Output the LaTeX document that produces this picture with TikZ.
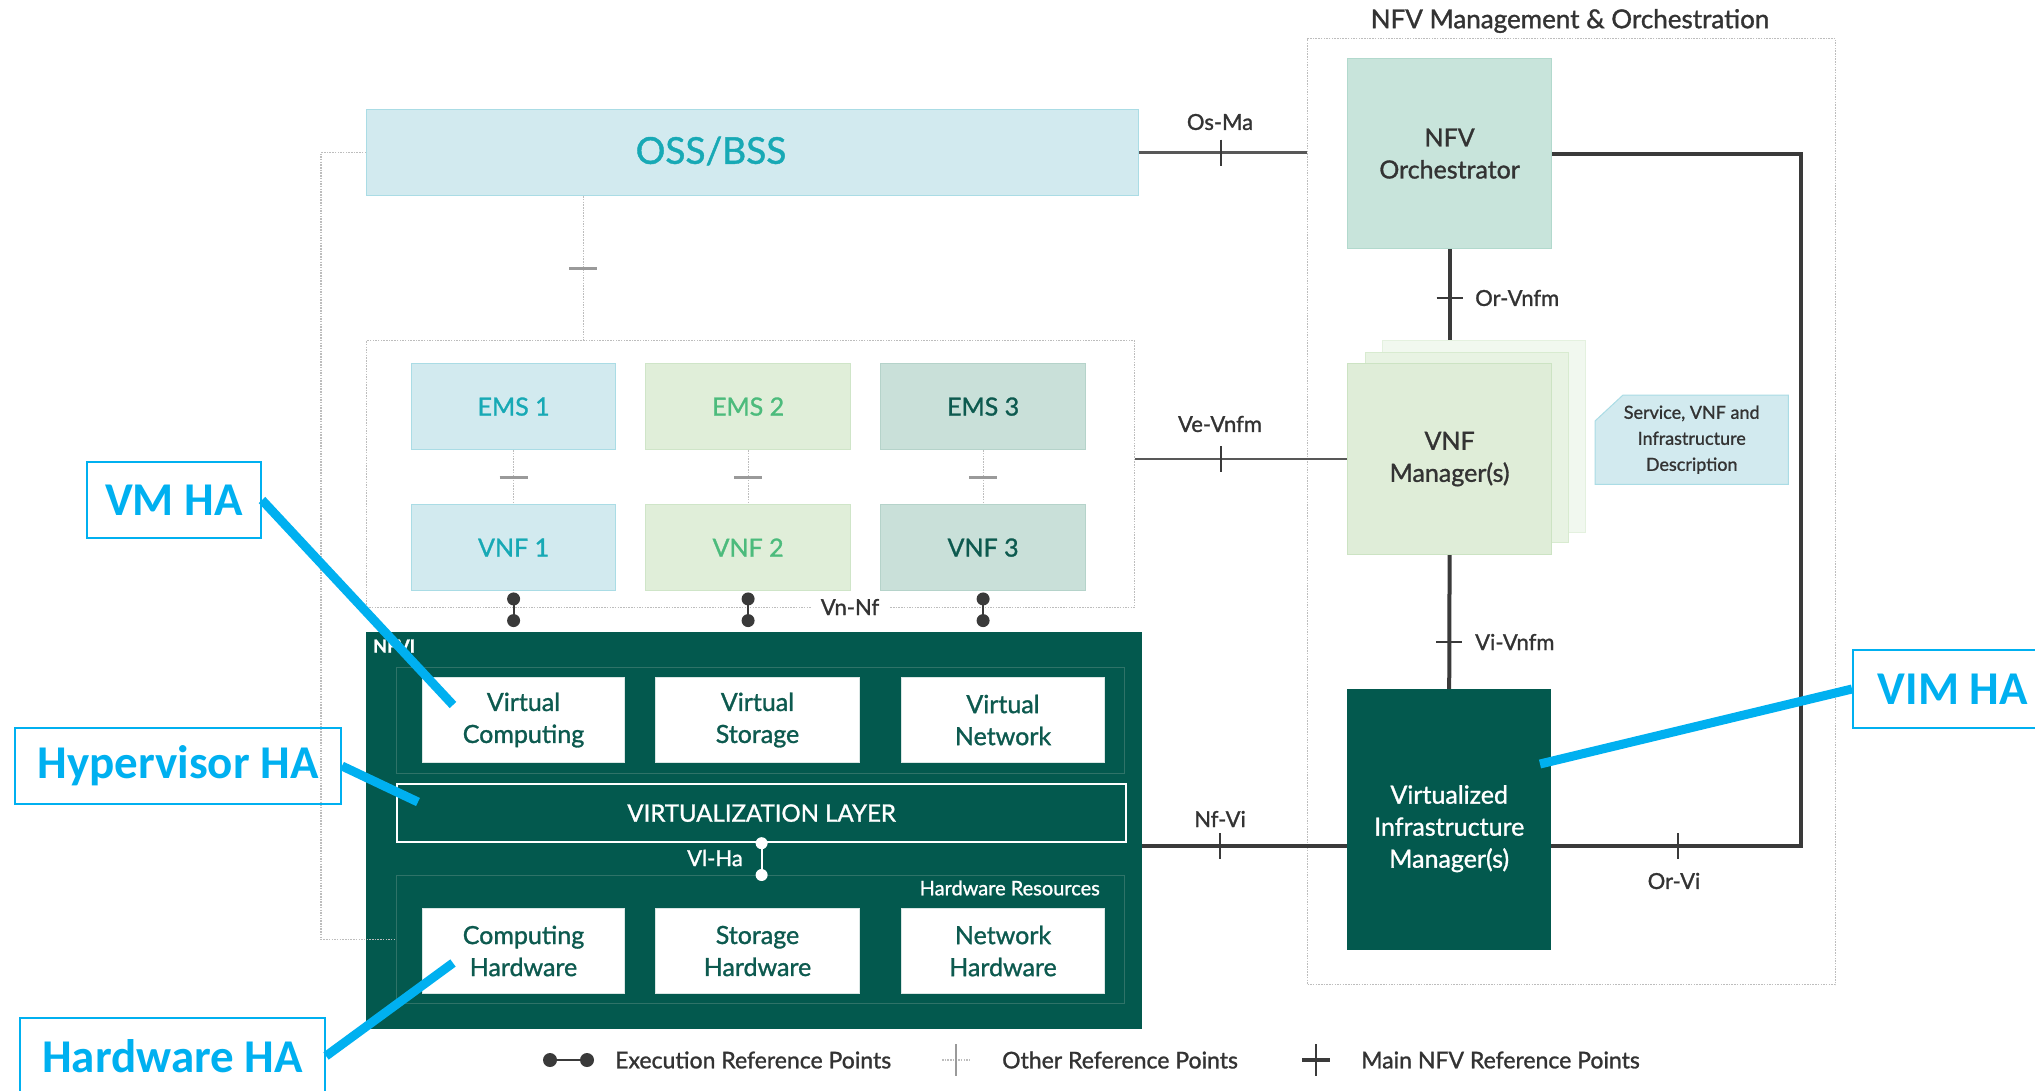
\documentclass[tikz,border=0pt]{standalone}
\usepackage{fontspec}
\setmainfont{Lato}[FakeBold=1.2]
\newfontfamily\hafont{Carlito}
\usetikzlibrary{calc,backgrounds}

\definecolor{nfvdark}{HTML}{03594E}
\definecolor{innerln}{HTML}{2F7368}
\definecolor{tealtxt}{HTML}{17A9B5}
\definecolor{bluefill}{HTML}{D2EAEF}
\definecolor{blueedge}{HTML}{AADCE5}
\definecolor{greenfill}{HTML}{E0EED9}
\definecolor{greenedge}{HTML}{CFE5C8}
\definecolor{greentxt}{HTML}{4CBB7C}
\definecolor{sagefill}{HTML}{C9E0D9}
\definecolor{sageedge}{HTML}{B5D3CA}
\definecolor{darktxt}{HTML}{0D5A4F}
\definecolor{nfvofill}{HTML}{C8E4DB}
\definecolor{nfvoedge}{HTML}{B2D9CD}
\definecolor{vnfmA}{HTML}{DFEDD8}
\definecolor{vnfmAedge}{HTML}{CCE3C3}
\definecolor{vnfmB}{HTML}{E8F3E3}
\definecolor{vnfmBedge}{HTML}{D8EBD0}
\definecolor{vnfmC}{HTML}{F1F8EF}
\definecolor{vnfmCedge}{HTML}{E4F1DF}
\definecolor{refline}{HTML}{3A3A3A}
\definecolor{lbltxt}{HTML}{333333}
\definecolor{dotgray}{HTML}{BDBDBD}
\definecolor{tickgray}{HTML}{9A9A9A}
\definecolor{habl}{HTML}{00B0F0}

\tikzset{
  vtick/.pic={\draw[solid, line width=2pt, refline] (0,-13) -- (0,13);},
  htick/.pic={\draw[solid, line width=2pt, refline] (-13,0) -- (13,0);},
  gtick/.pic={\draw[solid, line width=3pt, tickgray] (-14,0) -- (14,0);},
}

\begin{document}
\begin{tikzpicture}[x=1pt, y=-1pt,
  blk/.style={rectangle, anchor=north west, inner sep=0pt, align=center},
  txt25/.style={font=\fontsize{25}{32}\selectfont},
  tealbox/.style={blk, txt25, fill=bluefill, draw=blueedge, line width=1.2pt, text=tealtxt, minimum width=204pt, minimum height=86pt},
  greenbox/.style={blk, txt25, fill=greenfill, draw=greenedge, line width=1.2pt, text=greentxt, minimum width=205pt, minimum height=86pt},
  sagebox/.style={blk, txt25, fill=sagefill, draw=sageedge, line width=1.2pt, text=darktxt, minimum width=205pt, minimum height=86pt},
  whitebox/.style={blk, txt25, fill=white, draw=white!85!nfvdark, line width=1pt, text=darktxt, minimum height=85pt},
  frame/.style={blk, draw=dotgray, dash pattern=on 1.5pt off 1.2pt, line width=1pt},
  dotln/.style={draw=dotgray, dash pattern=on 1.5pt off 1.2pt, line width=1.1pt},
  mainln/.style={draw=refline, line width=4pt},
  medln/.style={draw=refline!85, line width=2.6pt},
  reflbl/.style={font=\fontsize{22}{26}\selectfont, text=lbltxt, inner sep=2pt},
  legtxt/.style={font=\fontsize{23}{26}\selectfont, text=lbltxt, anchor=west, inner sep=0pt},
  habox/.style={rectangle, draw=habl, line width=2pt, text=habl, font=\hafont\bfseries\fontsize{47}{52}\selectfont, inner sep=0pt, anchor=north west},
  haln/.style={draw=habl, line width=9pt},
]
\useasboundingbox (0,0) rectangle (2035,1090);
\begin{scope}[on background layer]
  \fill[white] (0,0) rectangle (2035,1090);
\end{scope}
\clip (0,0) rectangle (2035,1090);

% ---------- OSS/BSS ----------
\node[blk, fill=bluefill, draw=blueedge, line width=1.2pt, minimum width=772pt, minimum height=86pt] (oss) at (366,109) {};
\node[font=\fontsize{37}{40}\selectfont, text=tealtxt] (osslbl) at (711,151) {OSS/BSS};

% ---------- NFV MANO ----------
\node[frame, minimum width=528pt, minimum height=946pt] (mano) at (1307,38) {};
\node[font=\fontsize{26}{30}\selectfont, text=lbltxt] (manotitle) at (1570,21) {NFV Management \& Orchestration};

\node[blk, txt25, fill=nfvofill, draw=nfvoedge, line width=1.2pt, minimum width=204pt, minimum height=190pt, text=lbltxt] (nfvo) at (1347,58) {NFV\\Orchestrator};

\node[blk, fill=vnfmC, draw=vnfmCedge, line width=1.2pt, minimum width=203pt, minimum height=192pt] (vnfmb2) at (1382,340) {};
\node[blk, fill=vnfmB, draw=vnfmBedge, line width=1.2pt, minimum width=203pt, minimum height=190pt] (vnfmb1) at (1365,352) {};
\node[blk, txt25, fill=vnfmA, draw=vnfmAedge, line width=1.2pt, minimum width=204pt, minimum height=191pt, text=lbltxt] (vnfm) at (1347,363) {VNF\\Manager(s)};

\node[blk, minimum width=193pt, minimum height=89pt, font=\fontsize{18}{26}\selectfont, text=lbltxt] (desc) at (1595,395) {Service, VNF and\\Infrastructure\\Description};
\begin{scope}[on background layer]
  \filldraw[fill=bluefill, draw=blueedge, line width=1pt]
    ($(desc.north west)+(0,26)$) -- ($(desc.north west)+(28,0)$) -- (desc.north east)
    -- (desc.south east) -- (desc.south west) -- cycle;
\end{scope}

\node[blk, fill=nfvdark, minimum width=204pt, minimum height=261pt] (vim) at (1347,689) {};
\node[txt25, text=white, align=center] (vimlbl) at ($(vim.center)+(0,9)$) {Virtualized\\Infrastructure\\Manager(s)};

% ---------- EMS / VNF ----------
\node[frame, minimum width=768pt, minimum height=267pt] (emsc) at (366,340) {};
\node[tealbox] (ems1) at (411,363) {EMS 1};
\node[greenbox] (ems2) at (645,363) {EMS 2};
\node[sagebox] (ems3) at (880,363) {EMS 3};
\node[tealbox] (vnf1) at (411,504) {VNF 1};
\node[greenbox] (vnf2) at (645,504) {VNF 2};
\node[sagebox] (vnf3) at (880,504) {VNF 3};

% ---------- NFVI ----------
\node[blk, fill=nfvdark, minimum width=776pt, minimum height=397pt] (nfvi) at (366,632) {};
\node[anchor=west, text=white, font=\fontsize{18}{20}\selectfont\bfseries, inner sep=0pt] (nfvilbl) at (373,646) {NFVI};
\node[blk, draw=innerln, line width=1pt, minimum width=728pt, minimum height=106pt] (virtrow) at (396,667) {};
\node[whitebox, minimum width=202pt] (vcomp) at (422,677) {Virtual\\Computing};
\node[whitebox, minimum width=204pt] (vstor) at (655,677) {Virtual\\Storage};
\node[whitebox, minimum width=203pt] (vnet) at (901,677) {Virtual\\Network};
\node[blk, draw=white, line width=2.2pt, minimum width=729pt, minimum height=58pt, text=white, font=\fontsize{24}{28}\selectfont] (vlayer) at (396,783) {VIRTUALIZATION LAYER};
\node[blk, draw=innerln, line width=1pt, minimum width=728pt, minimum height=128pt] (hwres) at (396,875) {};
\node[anchor=east, text=white, font=\fontsize{20}{24}\selectfont, inner sep=0pt] (hwreslbl) at (1100,888) {Hardware Resources};
\node[whitebox, minimum width=202pt] (hcomp) at (422,908) {Computing\\Hardware};
\node[whitebox, minimum width=204pt] (hstor) at (655,908) {Storage\\Hardware};
\node[whitebox, minimum width=203pt] (hnet) at (901,908) {Network\\Hardware};

% ---------- other reference points (dotted) ----------
\coordinate (ossdrop) at ($(oss.south west)!0.281!(oss.south east)$);
\draw[dotln] (ossdrop) -- pic[pos=0.5]{gtick} (ossdrop |- emsc.north);
\foreach \i in {1,2,3} {
  \draw[dotln] (ems\i.south) -- pic[pos=0.5]{gtick} (vnf\i.north);
}
\draw[dotln] (oss.west) -- ++(-45,0) |- (hwres.west);

% ---------- execution reference points ----------
\foreach \i in {1,2,3} {
  \path (vnf\i.south) -- coordinate[pos=0.19] (ea\i) coordinate[pos=0.72] (eb\i) (vnf\i.south |- nfvi.north);
  \draw[refline, line width=2pt] (ea\i) -- (eb\i);
  \fill[refline] (ea\i) circle (6.5pt) (eb\i) circle (6.5pt);
}
\node[reflbl, fill=white, inner xsep=10pt] (vnnf) at (850,607) {Vn-Nf};

\draw[white, line width=2pt] (vlayer.south) -- (vlayer.south |- hwres.north);
\fill[white] (vlayer.south) circle (6pt) (vlayer.south |- hwres.north) circle (6pt);
\node[reflbl, text=white] (vlha) at (715,858) {Vl-Ha};

% ---------- main NFV reference points ----------
\coordinate (nfvirow) at (0,846);
\coordinate (loopx) at (1801,0);

\draw[medln] (oss.east) -- pic[pos=0.485]{vtick} (oss.east -| mano.west);
\node[reflbl] (osma) at (1220,122) {Os-Ma};

\draw[medln] (vnfm.west -| emsc.east) -- pic[pos=0.404]{vtick} (vnfm.west);
\node[reflbl] (vevnfm) at (1220,424) {Ve-Vnfm};

\draw[mainln] (nfvi.east |- nfvirow) -- pic[pos=0.38]{vtick} (vim.west |- nfvirow);
\node[reflbl] (nfvilink) at (1220,819) {Nf-Vi};

\draw[mainln] (vim.east |- nfvirow) -- pic[pos=0.508]{vtick} (loopx |- nfvirow) |- (nfvo.east);
\node[reflbl] (orvi) at (1674,881) {Or-Vi};

\draw[mainln] (nfvo.south) -- pic[pos=0.54]{htick} (nfvo.south |- vnfmb2.north);
\node[reflbl, anchor=west] (orvnfm) at (1473,298) {Or-Vnfm};

\draw[mainln] (vnfm.south) -- pic[pos=0.65]{htick} (vim.north);
\node[reflbl, anchor=west] (vivnfm) at (1473,642) {Vi-Vnfm};

% ---------- legend ----------
\node[legtxt] (leg1) at (615,1060) {Execution Reference Points};
\node[legtxt] (leg2) at (1002,1060) {Other Reference Points};
\node[legtxt] (leg3) at (1361,1060) {Main NFV Reference Points};
\draw[refline, line width=2.5pt] ($(leg1.west)+(-65,0)$) -- ($(leg1.west)+(-28,0)$);
\fill[refline] ($(leg1.west)+(-65,0)$) circle (7pt) ($(leg1.west)+(-28,0)$) circle (7pt);
\draw[dotln] ($(leg2.west)+(-60,0)$) -- ($(leg2.west)+(-32,0)$);
\draw[tickgray, line width=1.5pt] ($(leg2.west)+(-46,-16)$) -- ($(leg2.west)+(-46,16)$);
\draw[refline, line width=4pt] ($(leg3.west)+(-59,0)$) -- ($(leg3.west)+(-31,0)$);
\draw[refline, line width=2pt] ($(leg3.west)+(-45,-16)$) -- ($(leg3.west)+(-45,16)$);

% ---------- HA callouts ----------
\node[habox, minimum width=174pt, minimum height=76pt] (vmha) at (86,461) {VM HA};
\node[habox, minimum width=326pt, minimum height=76pt] (hypha) at (14,727) {Hypervisor HA};
\node[habox, minimum width=305pt, minimum height=76pt] (hwha) at (19,1017) {Hardware HA};
\node[habox, minimum width=200pt, minimum height=78pt] (vimha) at (1852,649) {VIM HA};

\coordinate (vmtgt) at (453,705);
\coordinate (hyptgt) at (418,802);
\coordinate (hwtgt) at (453,963);
\coordinate (vimtgt) at (1540,764);
\draw[haln] (vmha.east) -- (vmtgt);
\draw[haln] (hypha.east) -- (hyptgt);
\draw[haln] (hwha.east) -- (hwtgt);
\draw[haln] (vimha.west) -- (vimtgt);
\end{tikzpicture}
\end{document}
